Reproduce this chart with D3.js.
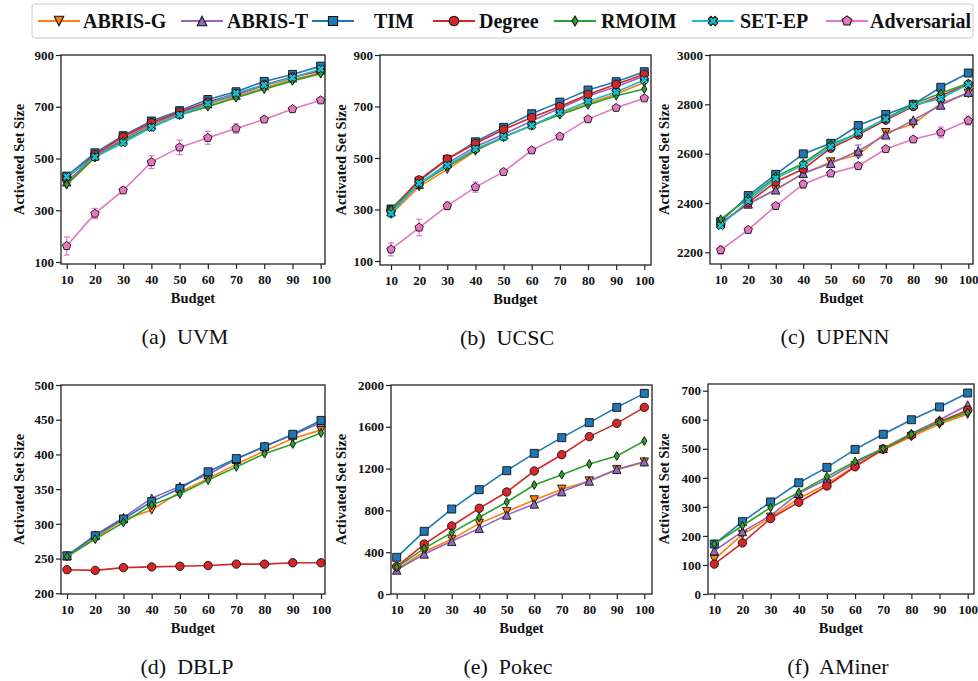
<!DOCTYPE html>
<html>
<head>
<meta charset="utf-8">
<script src="https://cdn.jsdelivr.net/npm/d3@7"></script>
<style>
  html, body { margin: 0; padding: 0; background: #fff; }
  svg { display: block; }
</style>
</head>
<body>
<svg id="chart" width="978" height="681"></svg>
<script>
// ---- data -------------------------------------------------------------
const budgets = [10, 20, 30, 40, 50, 60, 70, 80, 90, 100];
const methods = ["ABRIS-G", "ABRIS-T", "TIM", "Degree", "RMOIM", "SET-EP", "Adversarial"];
const methodColors = ["#ff7f0e", "#9467bd", "#1f77b4", "#d62728", "#2ca02c", "#17becf", "#e377c2"];

// UVM
const uvmAbrisG = [398, 503, 570, 625, 670, 703, 740, 773, 805, 830];
const uvmAbrisT = [410, 510, 575, 632, 676, 712, 745, 782, 812, 843];
const uvmTim    = [432, 522, 588, 645, 685, 728, 758, 798, 825, 857];
const uvmDegree = [425, 515, 584, 638, 680, 718, 750, 785, 815, 838];
const uvmRmoim  = [400, 505, 568, 622, 668, 700, 735, 768, 800, 828];
const uvmSetEp  = [430, 506, 561, 620, 668, 712, 752, 784, 812, 846];
const uvmAdv    = [162, 287, 377, 486, 543, 580, 616, 651, 691, 725];
const uvmAdvErr = [35, 20, 12, 25, 28, 25, 18, 6, 6, 6];

// UCSC
const ucscAbrisG = [282, 389, 456, 527, 583, 624, 671, 712, 749, 793];
const ucscAbrisT = [292, 398, 479, 544, 592, 644, 693, 741, 777, 818];
const ucscTim    = [302, 410, 495, 563, 619, 672, 717, 764, 796, 835];
const ucscDegree = [298, 415, 496, 556, 611, 657, 700, 747, 786, 825];
const ucscRmoim  = [300, 399, 466, 531, 580, 627, 668, 706, 742, 768];
const ucscSetEp  = [285, 402, 472, 535, 582, 626, 676, 720, 756, 803];
const ucscAdv    = [145, 230, 314, 387, 446, 530, 584, 651, 695, 732];
const ucscAdvErr = [25, 32, 15, 20, 8, 12, 6, 6, 6, 8];

// UPENN
const upennAbrisG    = [2318, 2396, 2455, 2519, 2566, 2595, 2685, 2720, 2804, 2845];
const upennAbrisT    = [2318, 2396, 2453, 2520, 2561, 2611, 2676, 2736, 2797, 2849];
const upennAbrisTErr = [0, 0, 0, 0, 0, 24, 0, 0, 0, 0];
const upennTim       = [2324, 2430, 2516, 2599, 2642, 2714, 2759, 2800, 2869, 2927];
const upennDegree    = [2315, 2401, 2486, 2538, 2622, 2676, 2736, 2791, 2835, 2881];
const upennRmoim     = [2334, 2419, 2507, 2561, 2638, 2682, 2743, 2801, 2845, 2885];
const upennSetEp     = [2308, 2409, 2500, 2554, 2628, 2686, 2741, 2795, 2824, 2881];
const upennAdv       = [2209, 2291, 2388, 2476, 2520, 2550, 2619, 2658, 2686, 2734];
const upennAdvErr    = [16, 8, 8, 16, 8, 12, 8, 8, 22, 18];

// DBLP
const dblpAbrisG = [253, 280, 306, 320, 346, 365, 386, 405, 423, 435];
const dblpAbrisT = [254, 284, 309, 337, 354, 371, 393, 412, 428, 446];
const dblpTim    = [254, 283, 307, 332, 351, 375, 394, 411, 429, 449];
const dblpDegree = [234, 233, 237, 238, 239, 240, 242, 242, 244, 244];
const dblpRmoim  = [253, 278, 302, 327, 343, 363, 382, 401, 415, 431];

// Pokec
const pokecAbrisG = [236, 405, 523, 676, 788, 900, 1002, 1081, 1190, 1262];
const pokecAbrisT = [230, 383, 504, 628, 756, 861, 979, 1081, 1193, 1266];
const pokecTim    = [351, 600, 813, 998, 1180, 1346, 1496, 1640, 1786, 1920];
const pokecDegree = [262, 478, 651, 820, 976, 1177, 1333, 1506, 1633, 1786];
const pokecRmoim  = [255, 437, 587, 734, 880, 1043, 1142, 1244, 1321, 1464];

// AMiner
const aminerAbrisG = [119, 205, 264, 329, 379, 441, 496, 542, 585, 619];
const aminerAbrisT = [149, 215, 270, 347, 395, 450, 501, 553, 599, 651];
const aminerTim    = [172, 249, 317, 383, 436, 498, 550, 600, 644, 692];
const aminerDegree = [103, 176, 260, 316, 372, 438, 499, 547, 593, 633];
const aminerRmoim  = [172, 235, 298, 350, 404, 456, 501, 550, 591, 625];

// tick labels
const budgetTicks = [10, 20, 30, 40, 50, 60, 70, 80, 90, 100];
const uvmTicks   = [100, 300, 500, 700, 900];
const ucscTicks  = [100, 300, 500, 700, 900];
const upennTicks = [2200, 2400, 2600, 2800, 3000];
const dblpTicks  = [200, 250, 300, 350, 400, 450, 500];
const pokecTicks = [0, 400, 800, 1200, 1600, 2000];
const aminerTicks = [0, 100, 200, 300, 400, 500, 600, 700];

const captions = ["(a)  UVM", "(b)  UCSC", "(c)  UPENN", "(d)  DBLP", "(e)  Pokec", "(f)  AMiner"];

// ---- panel assembly ---------------------------------------------------
function S(name, values, err) { return { name, values, err: err || null }; }

const panels = [
  { caption: captions[0], ticks: uvmTicks, yDom: [100, 900],
    series: [S("ABRIS-G", uvmAbrisG), S("ABRIS-T", uvmAbrisT), S("TIM", uvmTim), S("Degree", uvmDegree),
             S("RMOIM", uvmRmoim), S("SET-EP", uvmSetEp), S("Adversarial", uvmAdv, uvmAdvErr)],
    box: [61, 55, 325, 264], xr: [66.7, 320.7], yr: [262, 55], ylabX: 19, capX: 185 },
  { caption: captions[1], ticks: ucscTicks, yDom: [100, 900],
    series: [S("ABRIS-G", ucscAbrisG), S("ABRIS-T", ucscAbrisT), S("TIM", ucscTim), S("Degree", ucscDegree),
             S("RMOIM", ucscRmoim), S("SET-EP", ucscSetEp), S("Adversarial", ucscAdv, ucscAdvErr)],
    box: [380, 55, 651, 265], xr: [391, 644.3], yr: [261, 55], ylabX: 341, capX: 507 },
  { caption: captions[2], ticks: upennTicks, yDom: [2200, 3000],
    series: [S("ABRIS-G", upennAbrisG), S("ABRIS-T", upennAbrisT, upennAbrisTErr), S("TIM", upennTim), S("Degree", upennDegree),
             S("RMOIM", upennRmoim), S("SET-EP", upennSetEp), S("Adversarial", upennAdv, upennAdvErr)],
    box: [710, 55, 973, 264], xr: [720.7, 968.3], yr: [252.3, 55], ylabX: 664, capX: 835 },
  { caption: captions[3], ticks: dblpTicks, yDom: [200, 500],
    series: [S("ABRIS-G", dblpAbrisG), S("ABRIS-T", dblpAbrisT), S("TIM", dblpTim), S("Degree", dblpDegree),
             S("RMOIM", dblpRmoim)],
    box: [61, 385, 325, 594], xr: [67, 321], yr: [593.3, 385], ylabX: 19, capX: 187 },
  { caption: captions[4], ticks: pokecTicks, yDom: [0, 2000],
    series: [S("ABRIS-G", pokecAbrisG), S("ABRIS-T", pokecAbrisT), S("TIM", pokecTim), S("Degree", pokecDegree),
             S("RMOIM", pokecRmoim)],
    box: [391, 385, 652, 594], xr: [396.7, 644.3], yr: [594, 385], ylabX: 341, capX: 508 },
  { caption: captions[5], ticks: aminerTicks, yDom: [0, 700],
    series: [S("ABRIS-G", aminerAbrisG), S("ABRIS-T", aminerAbrisT), S("TIM", aminerTim), S("Degree", aminerDegree),
             S("RMOIM", aminerRmoim)],
    box: [708, 384, 974, 594], xr: [714.3, 967.7], yr: [594, 390.7], ylabX: 664, capX: 838 }
];

// ---- text styling -----------------------------------------------------
const SERIF = '"Liberation Serif", "Times New Roman", Times, serif';
function styleText(sel, size, bold) {
  return sel.style("font-family", SERIF).style("font-size", size + "px")
    .style("font-weight", bold ? "bold" : "normal").style("fill", "#111");
}

// ---- marker shapes (pixel paths centred on 0,0) -----------------------
const R = 4.2;
function poly(pts) { return "M" + pts.map(p => p[0].toFixed(2) + "," + p[1].toFixed(2)).join("L") + "Z"; }
const markerPaths = {
  "ABRIS-G": poly([[-R, -R], [R, -R], [0, R]]),
  "ABRIS-T": poly([[0, -R], [R, R], [-R, R]]),
  "TIM": poly([[-R * 0.95, -R * 0.95], [R * 0.95, -R * 0.95], [R * 0.95, R * 0.95], [-R * 0.95, R * 0.95]]),
  "Degree": d3.symbol(d3.symbolCircle, Math.PI * R * R)(),
  "RMOIM": poly([[0, -R * 1.05], [R * 0.62, 0], [0, R * 1.05], [-R * 0.62, 0]]),
  "SET-EP": (function () {
    const a = R * 1.0, w = R * 0.38;
    // filled X: a plus sign rotated by 45 degrees
    const plus = [[-w, -a], [w, -a], [w, -w], [a, -w], [a, w], [w, w], [w, a], [-w, a], [-w, w], [-a, w], [-a, -w], [-w, -w]];
    const c = Math.SQRT1_2;
    return poly(plus.map(([x, y]) => [c * (x - y), c * (x + y)]));
  })(),
  "Adversarial": poly(d3.range(5).map(i => {
    const t = -Math.PI / 2 + i * 2 * Math.PI / 5;
    return [R * 1.05 * Math.cos(t), R * 1.05 * Math.sin(t)];
  }))
};
const colorOf = name => methodColors[methods.indexOf(name)];

// ---- drawing ----------------------------------------------------------
const svg = d3.select("#chart");

panels.forEach(p => {
  const [x0, y0, x1, y1] = p.box;
  const x = d3.scaleLinear().domain([10, 100]).range(p.xr);
  const y = d3.scaleLinear().domain(p.yDom).range(p.yr);
  const g = svg.append("g");

  // axes
  const xAxis = d3.axisBottom(x).tickValues(budgetTicks).tickFormat(d3.format("d")).tickSize(5).tickPadding(3);
  const gx = g.append("g").attr("transform", `translate(0,${y1})`).call(xAxis);
  const yAxis = d3.axisLeft(y).tickValues(p.ticks).tickFormat(d3.format("d")).tickSize(5).tickPadding(2);
  const gy = g.append("g").attr("transform", `translate(${x0},0)`).call(yAxis);
  [gx, gy].forEach(a => {
    a.attr("font-family", null).attr("font-size", null);
    a.select(".domain").remove();
    a.selectAll(".tick line").attr("stroke", "#222").attr("stroke-width", 1.2);
    styleText(a.selectAll(".tick text").attr("fill", null), 13, true);
  });
  gx.selectAll(".tick text").attr("dy", "0.9em");

  // series
  const line = d3.line().x((d, i) => x(budgets[i])).y(d => y(d));
  p.series.forEach(s => {
    const col = colorOf(s.name);
    const sg = g.append("g");
    sg.append("path").attr("d", line(s.values)).attr("fill", "none")
      .attr("stroke", col).attr("stroke-width", 1.6);
    if (s.err) {
      const eb = sg.selectAll(".eb").data(s.values.map((v, i) => ({ v, e: s.err[i], b: budgets[i] })).filter(d => d.e > 0))
        .enter().append("g").attr("stroke", col).attr("stroke-width", 1.2);
      eb.append("line").attr("x1", d => x(d.b)).attr("x2", d => x(d.b))
        .attr("y1", d => y(d.v - d.e)).attr("y2", d => y(d.v + d.e));
      eb.append("line").attr("x1", d => x(d.b) - 3).attr("x2", d => x(d.b) + 3)
        .attr("y1", d => y(d.v - d.e)).attr("y2", d => y(d.v - d.e));
      eb.append("line").attr("x1", d => x(d.b) - 3).attr("x2", d => x(d.b) + 3)
        .attr("y1", d => y(d.v + d.e)).attr("y2", d => y(d.v + d.e));
    }
    sg.selectAll(".mk").data(s.values).enter().append("path")
      .attr("d", markerPaths[s.name])
      .attr("transform", (d, i) => `translate(${x(budgets[i])},${y(d)})`)
      .attr("fill", col).attr("stroke", "#111").attr("stroke-width", 0.9);
  });

  // frame
  g.append("rect").attr("x", x0).attr("y", y0).attr("width", x1 - x0).attr("height", y1 - y0)
    .attr("fill", "none").attr("stroke", "#222").attr("stroke-width", 1.3);

  // titles
  styleText(g.append("text"), 14.5, true).attr("text-anchor", "middle")
    .attr("x", (x0 + x1) / 2).attr("y", y1 + 39).text("Budget");
  styleText(g.append("text"), 14.5, true).attr("text-anchor", "middle")
    .attr("transform", `translate(${p.ylabX + 5},${(y0 + y1) / 2}) rotate(-90)`).text("Activated Set Size");
  styleText(g.append("text"), 22, false).attr("text-anchor", "middle")
    .attr("x", p.capX).attr("y", y1 + 80).style("white-space", "pre").text(p.caption);
});

// ---- legend -----------------------------------------------------------
const legend = svg.append("g");
legend.append("rect").attr("x", 32).attr("y", 4).attr("width", 941).attr("height", 34).attr("rx", 3)
  .attr("fill", "#fff").attr("stroke", "#ccc").attr("stroke-width", 1);
const legendLineX = [38, 181, 312, 433, 554, 692, 826];
const legendTextX = [83, 227, 374, 479, 601, 740, 870];
methods.forEach((m, i) => {
  const lx = legendLineX[i], ly = 21;
  const col = methodColors[i];
  legend.append("line").attr("x1", lx).attr("x2", lx + 42).attr("y1", ly).attr("y2", ly)
    .attr("stroke", col).attr("stroke-width", 2.2);
  legend.append("path").attr("d", markerPaths[m]).attr("transform", `translate(${lx + 21},${ly}) scale(1.15)`)
    .attr("fill", col).attr("stroke", "#111").attr("stroke-width", 0.9);
  styleText(legend.append("text"), 20, true).attr("x", legendTextX[i]).attr("y", ly + 7).text(m);
});
</script>
</body>
</html>
